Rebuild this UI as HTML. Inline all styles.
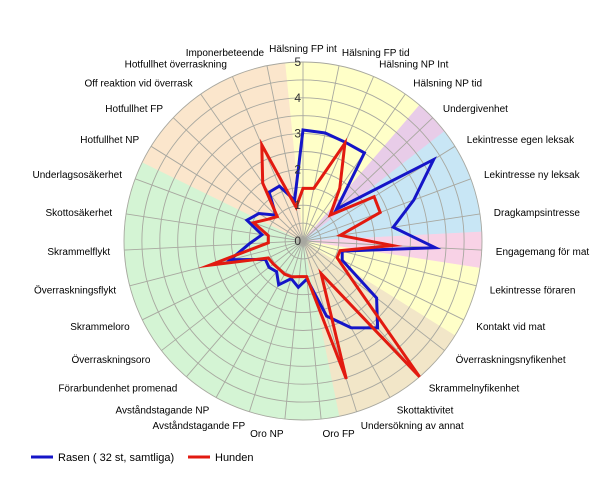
<!DOCTYPE html>
<html><head><meta charset="utf-8"><style>
html,body{margin:0;padding:0;background:#fff;}
svg text{font-family:"Liberation Sans",Arial,sans-serif;font-size:10px;fill:#000;}
</style></head><body>
<svg id="chart" width="613" height="490" viewBox="0 0 613 490" xmlns="http://www.w3.org/2000/svg">
<g id="sectors"></g>
<g id="grid"></g>
<g id="series"></g>
<g id="labels"></g>
<g id="ticks"></g>
<g>
  <line x1="31" y1="457" x2="53" y2="457" stroke="#1515c8" stroke-width="3"/>
  <text x="58" y="461" style="font-size:11px">Rasen ( 32 st, samtliga)</text>
  <line x1="188" y1="457" x2="210" y2="457" stroke="#e21a10" stroke-width="3"/>
  <text x="215" y="461" style="font-size:11px">Hunden</text>
</g>
</svg>
<script>
const categories = ["Hälsning FP int","Hälsning FP tid","Hälsning NP Int","Hälsning NP tid","Undergivenhet","Lekintresse egen leksak","Lekintresse ny leksak","Dragkampsintresse","Engagemang för mat","Lekintresse föraren","Kontakt vid mat","Överraskningsnyfikenhet","Skrammelnyfikenhet","Skottaktivitet","Undersökning av annat","Oro FP","Oro NP","Avståndstagande FP","Avståndstagande NP","Förarbundenhet promenad","Överraskningsoro","Skrammeloro","Överraskningsflykt","Skrammelflykt","Skottosäkerhet","Underlagsosäkerhet","Hotfullhet NP","Hotfullhet FP","Off reaktion vid överrask","Hotfullhet överraskning","Imponerbeteende"];
const rasen = [3.1,3.08,3.0,3.0,1.29,4.3,3.3,2.55,3.7,1.13,1.22,2.6,3.2,2.77,2.2,1.07,1.3,1.1,1.4,1.13,1.2,1.17,2.1,1.5,1.16,1.67,1.45,1.05,1.66,1.67,1.16];
const hunden = [1.47,1.5,2.97,1.8,1.05,2.34,2.3,1.05,2.5,1.07,1.06,1.7,5.0,1.04,4.04,1.0,1.0,1.05,1.06,1.03,1.05,1.08,2.69,0.97,0.98,1.47,1.15,0.99,1.97,2.92,0.96];
const tickLabels = ["0","1","2","3","4","5"];
const groupOf = [0,0,0,0,1,2,2,2,3,0,0,4,4,4,4,5,5,5,5,5,5,5,5,5,5,5,6,6,6,6,6];
const groupColors = ["#ffffc8","#e8cce8","#c8e6f5","#f8d2e6","#f2e6c8","#d4f4d4","#fbe6cc"];

const NS="http://www.w3.org/2000/svg";
const cx=303, cy=241, R=179, maxV=5, N=categories.length;
function ang(i){return i*2*Math.PI/N;}
function px(i,v){return cx+R*(v/maxV)*Math.sin(ang(i));}
function py(i,v){return cy-R*(v/maxV)*Math.cos(ang(i));}
function mk(t,a,p){const e=document.createElementNS(NS,t);for(const k in a)e.setAttribute(k,a[k]);p.appendChild(e);return e;}

const sec=document.getElementById('sectors');
const step=2*Math.PI/N;
for(let i=0;i<N;i++){
  const a0=ang(i)-step/2,a1=ang(i)+step/2;
  const d=`M${cx},${cy} L${cx+R*Math.sin(a0)},${cy-R*Math.cos(a0)} A${R},${R} 0 0 1 ${cx+R*Math.sin(a1)},${cy-R*Math.cos(a1)} Z`;
  const p=mk('path',{d:d,fill:groupColors[groupOf[i]],stroke:groupColors[groupOf[i]],'stroke-width':0.6},sec);
  
  
}
const grid=document.getElementById('grid');
for(let k=1;k<=10;k++){
  const c=mk('circle',{cx:cx,cy:cy,r:R*k/10,fill:'none',stroke:'#a8a8a0','stroke-width':0.9},grid);
  
  
}
for(let i=0;i<N;i++){
  const l=mk('line',{x1:cx,y1:cy,x2:px(i,maxV),y2:py(i,maxV),stroke:'#a8a8a0','stroke-width':0.9},grid);
  
  
}
const ser=document.getElementById('series');
function drawSeries(vals,color,name){
  const pts=vals.map((v,i)=>px(i,v).toFixed(1)+','+py(i,v).toFixed(1)).join(' ');
  const pg=mk('polygon',{points:pts,fill:'none',stroke:color,'stroke-width':3,'stroke-linejoin':'miter','stroke-miterlimit':10},ser);
  
  
}
drawSeries(rasen,'#1515c8','series-rasen');
drawSeries(hunden,'#e21a10','series-hunden');

const lab=document.getElementById('labels');
for(let i=0;i<N;i++){
  const s=Math.sin(ang(i)),c=Math.cos(ang(i));
  const r=193;
  const x=cx+r*s, y=cy-r*c+4;
  const anchor=s>0.08?'start':(s<-0.08?'end':'middle');
  const t=mk('text',{x:x.toFixed(1),y:y.toFixed(1),'text-anchor':anchor},lab);
  t.textContent=categories[i];
  
  
}
const tk=document.getElementById('ticks');
for(let k=0;k<tickLabels.length;k++){
  const v=k*maxV/(tickLabels.length-1);
  const t=mk('text',{x:cx-2,y:(cy-R*v/maxV+4).toFixed(1),'text-anchor':'end',style:'font-size:12px;fill:#333'},tk);
  t.textContent=tickLabels[k];
  
  
}
</script>
</body></html>
